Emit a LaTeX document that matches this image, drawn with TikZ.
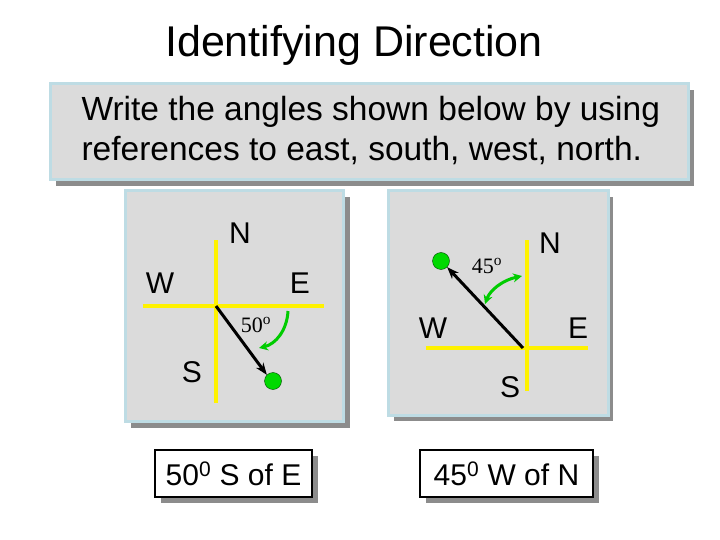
\documentclass[tikz,border=0pt]{standalone}
\usepackage{fontspec}
\setmainfont{Liberation Sans}
\newfontfamily\serifff{Liberation Serif}
\usetikzlibrary{arrows.meta}
\definecolor{bord}{RGB}{190,220,228}
\begin{document}
\begin{tikzpicture}[x=1pt,y=-1pt,
  panel/.style={fill=gray!28,draw=bord,line width=3pt},
  shadow/.style={fill=gray!90},
  yel/.style={draw=yellow,line width=3.5pt},
  lab/.style={font=\fontsize{30}{32}\selectfont},
  deg/.style={font=\serifff\fontsize{22}{24}\selectfont},
  dot/.style={circle,fill=green!85!black,draw=green!30!black,minimum size=17pt,inner sep=0pt},
  ray/.style={line width=3pt,-{Stealth[length=12pt,width=9pt]}},
  garc/.style={draw=green!80!black,line width=3pt},
  ansbox/.style={draw=black,fill=white,line width=1.2pt,font=\fontsize{30}{32}\selectfont,minimum width=157pt,minimum height=47pt,inner sep=0pt}]
\useasboundingbox (0,0) rectangle (720,540);
\fill[white] (0,0) rectangle (720,540);
\node (title) at (354,45) {\fontsize{43}{46}\selectfont Identifying Direction};
% text box
\fill[shadow] (56,90) rectangle (694,186);
\draw[panel] (50,84) rectangle (688,180);
\node[anchor=west,align=left,font=\fontsize{33.5}{40}\selectfont] (q) at (78,131) {Write the angles shown below by using\\references to east, south, west, north.};
% left panel
\fill[shadow] (131,197) rectangle (350,428);
\draw[panel] (125,191) rectangle (343,421);
\coordinate (c1v1) at (216,240); \coordinate (c1v2) at (216,403);
\coordinate (c1h1) at (143,306); \coordinate (c1h2) at (324,306);
\draw[yel] (c1v1) -- (c1v2); \draw[yel] (c1h1) -- (c1h2);
\node[dot] (d1) at (273,381) {};
\coordinate (o1) at (216,306);
\draw[ray] (o1) -- (d1.north west);
\node[lab] (n1) at (240,233) {N};
\node[lab] (w1) at (160,283) {W};
\node[lab] (e1) at (300,283) {E};
\node[lab] (s1) at (192,372) {S};
\node[deg] (a1) at (256,325) {50\textsuperscript{o}};
\coordinate (g1a) at (288,311); \coordinate (g1b) at (259,348);
\draw[garc,-{Stealth[length=9pt,width=9pt]}] (g1a) .. controls (287,330) and (276,344) .. (g1b);
% right panel
\fill[shadow] (394,197) rectangle (613,421);
\draw[panel] (388,191) rectangle (608,415);
\coordinate (c2v1) at (527,240); \coordinate (c2v2) at (527,391);
\coordinate (c2h1) at (426,348); \coordinate (c2h2) at (588,348);
\draw[yel] (c2v1) -- (c2v2); \draw[yel] (c2h1) -- (c2h2);
\node[dot] (d2) at (441,261) {};
\coordinate (o2) at (523,348);
\draw[ray] (o2) -- (d2.south east);
\node[lab] (n2) at (550,243) {N};
\node[lab] (w2) at (433,328) {W};
\node[lab] (e2) at (578,328) {E};
\node[lab] (s2) at (510,387) {S};
\node[deg] (a2) at (487,266) {45\textsuperscript{o}};
\coordinate (g2a) at (522,276); \coordinate (g2b) at (485,304);
\draw[garc,{Stealth[length=9pt,width=9pt]}-{Stealth[length=9pt,width=9pt]}] (g2a) .. controls (503,280) and (490,290) .. (g2b);
% answer boxes
\fill[shadow] (161,456) rectangle (318,503);
\node[ansbox] (ans1) at (233.5,473.5) {50\textsuperscript{0} S of E};
\fill[shadow] (426,456) rectangle (599,503);
\node[ansbox,minimum width=173pt] (ans2) at (506.5,473.5) {45\textsuperscript{0} W of N};
\end{tikzpicture}
\end{document}
